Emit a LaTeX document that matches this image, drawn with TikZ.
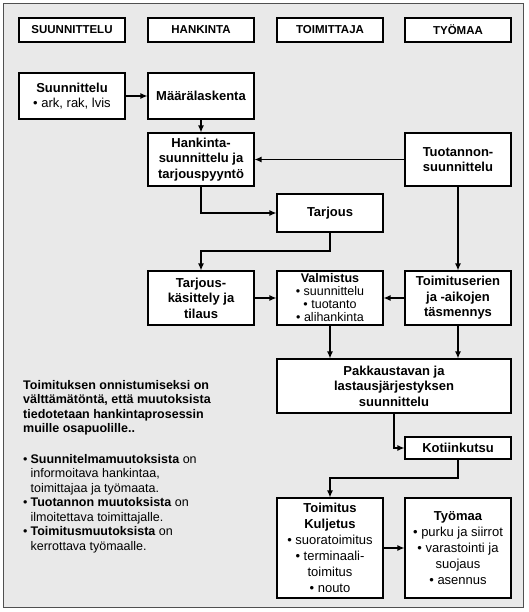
\documentclass[tikz,border=0pt]{standalone}
\usepackage{fontspec}
\setmainfont{Liberation Sans}
\usepackage{xcolor}
\usetikzlibrary{calc}
\usetikzlibrary{positioning}
\usetikzlibrary{arrows.meta}

\definecolor{panelgray}{HTML}{E9E9E9}
\definecolor{framegray}{HTML}{505050}

\tikzset{
	box/.style={draw=black,fill=white,line width=1.1pt,align=center,inner sep=0pt,
		minimum width=106pt,font=\bfseries\fontsize{13}{15.5}\selectfont},
	headbox/.style={box,minimum height=24pt,font=\bfseries\fontsize{11.5}{13}\selectfont},
	flow/.style={-{Latex[length=7pt,width=6pt]},line width=1.2pt}
}
\newcommand{\pallo}{\mdseries\textbullet\ }

\begin{document}
\begin{tikzpicture}[x=1pt,y=-1pt]
\useasboundingbox (0,0) rectangle (529,612);
\draw[fill=panelgray,draw=framegray,line width=1.3pt] (3.5,3.5) rectangle (523.5,607.5);

% otsikot
\node[headbox] (hsuun) at (72,30) {SUUNNITTELU};
\node[headbox] (hhank) at (201,30) {HANKINTA};
\node[headbox] (htoim) at (330,30) {TOIMITTAJA};
\node[headbox] (htyo) at (458,30) {TYÖMAA};

% prosessi
\node[box,minimum height=46pt] (suun) at (72,96) {Suunnittelu\\\pallo ark, rak, lvis};
\node[box,minimum height=46pt] (maara) at (201,96) {Määrälaskenta};
\node[box,minimum height=53pt] (hank) at (201,159.5) {Hankinta-\\suunnittelu ja\\tarjouspyyntö};
\node[box,minimum height=53pt] (tuot) at (458,159.5) {Tuotannon-\\suunnittelu};
\node[box,minimum height=38pt] (tarj) at (330,213) {Tarjous};
\node[box,minimum height=54pt] (kas) at (201,298) {Tarjous-\\käsittely ja\\tilaus};
\node[box,minimum height=54pt,font=\bfseries\fontsize{12.5}{13}\selectfont] (valm) at (330,298)
	{Valmistus\\\pallo suunnittelu\\\pallo tuotanto\\\pallo alihankinta};
\node[box,minimum height=54pt] (tarkn) at (458,298) {Toimituserien\\ja -aikojen\\täsmennys};
\node[box,minimum height=54pt,minimum width=234pt] (pakk) at (394,386)
	{Pakkaustavan ja\\lastausjärjestyksen\\suunnittelu};
\node[box,minimum height=22pt] (koti) at (458,448) {Kotiinkutsu};
\node[box,minimum height=100pt,font=\bfseries\fontsize{13}{16}\selectfont] (kulj) at (330,548)
	{Toimitus\\Kuljetus\\\pallo suoratoimitus\\\pallo terminaali-\\\mdseries toimitus\\\pallo nouto};
\node[box,minimum height=100pt,font=\bfseries\fontsize{13}{16}\selectfont] (tyo) at (458,548)
	{Työmaa\\\pallo purku ja siirrot\\\pallo varastointi ja\\\mdseries suojaus\\\pallo asennus};

\coordinate (mutka1) at (330,251);
\coordinate (mutka2) at (458,478);

\draw[flow] (suun) -- (maara);
\draw[flow] (maara) -- (hank);
\draw[flow] (tuot) -- (hank);
\draw[flow] (hank.south) |- (tarj.west);
\draw[flow] (tarj.south) -- (mutka1) -| (kas.north);
\draw[flow] (tuot) -- (tarkn);
\draw[flow] (kas) -- (valm);
\draw[flow] (tarkn) -- (valm);
\draw[flow] (valm.south) -- (valm.south |- pakk.north);
\draw[flow] (tarkn.south) -- (tarkn.south |- pakk.north);
\draw[flow] (pakk.south) |- (koti.west);
\draw[flow] (koti.south) -- (mutka2) -| (kulj.north);
\draw[flow] (kulj) -- (tyo);

% huomautus
\node[anchor=north west,align=left,inner sep=0pt,font=\bfseries\fontsize{12.5}{14.5}\selectfont] (huom) at (23,380)
	{Toimituksen onnistumiseksi on\\välttämätöntä, että muutoksista\\tiedotetaan hankintaprosessin\\muille osapuolille..};
\node[anchor=north west,align=left,inner sep=0pt,font=\fontsize{12.5}{14.5}\selectfont] (muut) at (23,453)
	{\begin{tabular}{@{}l@{\hspace{3pt}}l@{}}
	\textbullet & \textbf{Suunnitelmamuutoksista} on\\
	 & informoitava hankintaa,\\
	 & toimittajaa ja työmaata.\\
	\textbullet & \textbf{Tuotannon muutoksista} on\\
	 & ilmoitettava toimittajalle.\\
	\textbullet & \textbf{Toimitusmuutoksista} on\\
	 & kerrottava työmaalle.
	\end{tabular}};

\end{tikzpicture}
\end{document}
